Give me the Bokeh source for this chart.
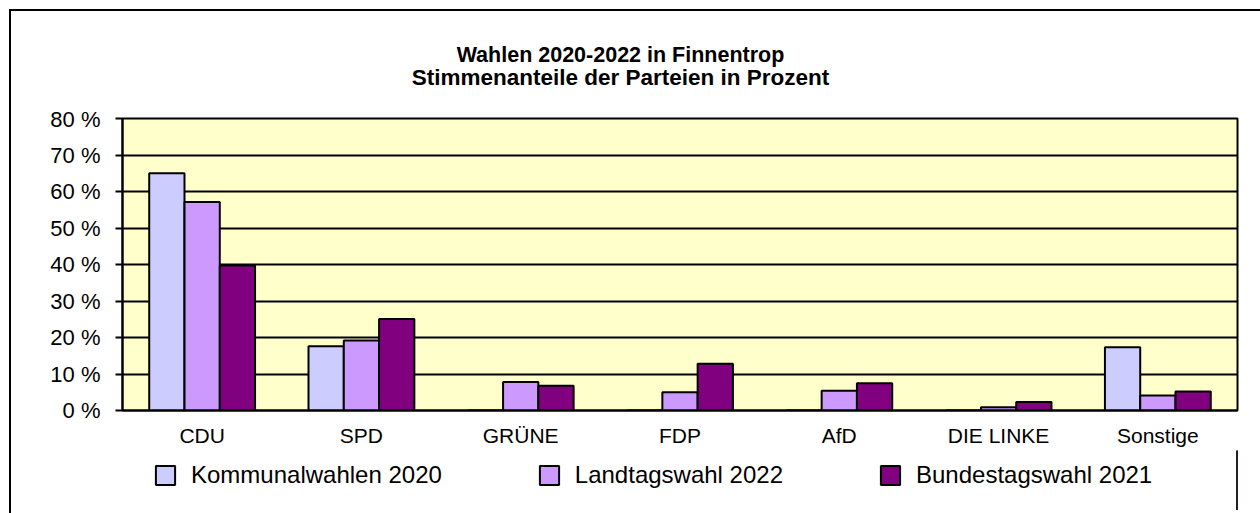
from bokeh.plotting import figure
from bokeh.layouts import column, row
from bokeh.models import (FactorRange, Range1d, FixedTicker, Legend, LegendItem,
                          Label, ColumnDataSource, Div)
from bokeh.transform import dodge
from bokeh.embed import file_html
from bokeh.resources import INLINE

# ---- data ----
parties = ["CDU", "SPD", "GRÜNE", "FDP", "AfD", "DIE LINKE", "Sonstige"]
kommunal_2020 = [65.0, 17.6, 0.0, 0.0, 0.0, 0.0, 17.3]
landtag_2022 = [57.1, 19.2, 7.8, 5.0, 5.4, 0.9, 4.1]
bundestag_2021 = [39.7, 25.1, 6.8, 12.8, 7.5, 2.3, 5.2]
series_names = ["Kommunalwahlen 2020", "Landtagswahl 2022", "Bundestagswahl 2021"]
series_colors = ["#CCCCFF", "#CC99FF", "#800080"]
ytick_values = [0, 10, 20, 30, 40, 50, 60, 70, 80]
ytick_labels = ["0 %", "10 %", "20 %", "30 %", "40 %", "50 %", "60 %", "70 %", "80 %"]
title_lines = ["Wahlen 2020-2022 in Finnentrop", "Stimmenanteile der Parteien in Prozent"]

FONT = "Liberation Sans"
W = 1240

# ---------- title strip (its frame is aligned with the chart frame) ----------
t = figure(width=W, height=95, x_range=Range1d(0, 1115), y_range=Range1d(95, 0),
           x_axis_type=None, y_axis_type=None, output_backend="svg",
           toolbar_location=None, title_location=None, min_border=0,
           outline_line_color=None, background_fill_color="white",
           border_fill_color="white")
t.xgrid.visible = False
t.ygrid.visible = False
for txt, yy, fs in zip(title_lines, [43, 66], ["21.5px", "22.5px"]):
    t.add_layout(Label(x=498, y=yy, text=txt, text_align="center", text_baseline="middle",
                       text_font=FONT, text_font_style="bold", text_font_size=fs,
                       text_color="black"))

# ---------- main chart ----------
source = ColumnDataSource(dict(party=parties, k=kommunal_2020, l=landtag_2022, b=bundestag_2021))

p = figure(
    width=W, height=344,
    x_range=FactorRange(*parties, range_padding=0),
    y_range=Range1d(0, 80),
    output_backend="svg", toolbar_location=None, title_location=None,
    min_border_left=111, min_border_right=14, min_border_top=12, min_border_bottom=40,
    background_fill_color="#FFFFCC", border_fill_color="white",
)
p.outline_line_color = "black"
p.outline_line_width = 2

bw = 0.2215
renderers = []
for col, off, color in zip(["k", "l", "b"], [-bw, 0.0, bw], series_colors):
    r = p.vbar(x=dodge("party", off, range=p.x_range), top=col, width=bw, bottom=0,
               source=source, fill_color=color, line_color="black", line_width=2)
    renderers.append(r)

p.xgrid.visible = False
p.ygrid.ticker = FixedTicker(ticks=ytick_values)
p.ygrid.grid_line_color = "black"
p.ygrid.grid_line_width = 2

p.yaxis.ticker = FixedTicker(ticks=ytick_values)
p.yaxis.major_label_overrides = {v: s for v, s in zip(ytick_values, ytick_labels)}
p.yaxis.axis_line_color = "black"
p.yaxis.axis_line_width = 2
p.yaxis.major_tick_line_color = "black"
p.yaxis.major_tick_line_width = 2
p.yaxis.major_tick_out = 7
p.yaxis.major_tick_in = 0
p.yaxis.minor_tick_line_color = None
p.yaxis.major_label_standoff = 15
p.yaxis.major_label_text_font = FONT
p.yaxis.major_label_text_font_size = "22px"
p.yaxis.major_label_text_color = "black"

p.xaxis.axis_line_color = "black"
p.xaxis.axis_line_width = 2
p.xaxis.major_tick_line_color = None
p.xaxis.major_tick_out = 0
p.xaxis.major_tick_in = 0
p.xaxis.minor_tick_line_color = None
p.xaxis.major_label_standoff = 13
p.xaxis.major_label_text_font = FONT
p.xaxis.major_label_text_font_size = "21px"
p.xaxis.major_label_text_color = "black"

# ---------- legend strip ----------
lg = figure(width=W, height=60, x_range=Range1d(0, 1), y_range=Range1d(0, 1),
            x_axis_type=None, y_axis_type=None, output_backend="svg",
            toolbar_location=None, title_location=None, min_border=0,
            outline_line_color=None, background_fill_color="white",
            border_fill_color="white")
lg.xgrid.visible = False
lg.ygrid.visible = False
hidden = ColumnDataSource(dict(x=[5.0], top=[1.0]))  # lies outside the visible range
lrs = [lg.vbar(x="x", top="top", width=0.1, source=hidden, fill_color=c,
               line_color="black", line_width=2) for c in series_colors]
legend = Legend(
    items=[LegendItem(label=n, renderers=[r]) for n, r in zip(series_names, lrs)],
    orientation="horizontal", location=(31, 21),
    spacing=95, padding=0, margin=0, label_standoff=14,
    glyph_width=24, glyph_height=24,
    label_text_font=FONT, label_text_font_size="24px", label_text_color="black",
    border_line_alpha=0, background_fill_alpha=0,
)
lg.add_layout(legend)

# ---------- outer frame: black top and left edges ----------
inner = column(t, p, lg, spacing=0)
top_bar = Div(text="", width=W + 11, height=2, margin=0,
              styles={"background-color": "black"})
left_bar = Div(text="", width=2, height=502, margin=0,
               styles={"background-color": "black"})
layout = column(top_bar, row(left_bar, inner, spacing=0), spacing=0,
                styles={"margin-left": "9px", "margin-top": "9px"})

open("out.html", "w").write(file_html(layout, INLINE))
